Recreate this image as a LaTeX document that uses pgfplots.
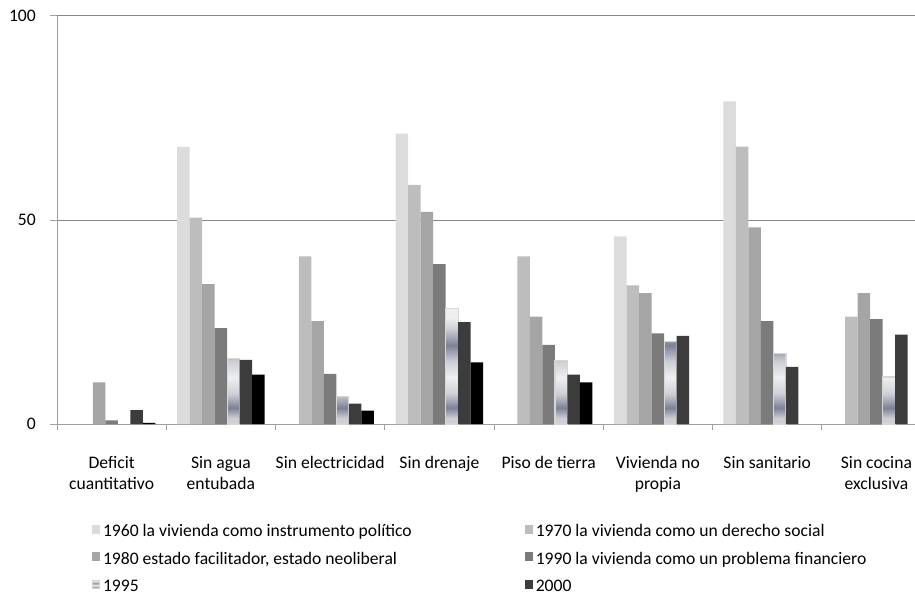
\documentclass[border=0pt]{standalone}
\usepackage{fontspec}
\setmainfont{Carlito}
\usepackage{pgfplots}
\pgfplotsset{compat=1.18}
\definecolor{cA}{HTML}{DCDCDC}
\definecolor{cB}{HTML}{BDBDBD}
\definecolor{cC}{HTML}{A5A5A5}
\definecolor{cD}{HTML}{7B7B7B}
\definecolor{cF}{HTML}{3C3C3C}
\definecolor{cG}{HTML}{000000}
\definecolor{gw}{HTML}{EEEFF1}
\definecolor{gm}{HTML}{CDCFD5}
\definecolor{gd}{HTML}{7C8197}
\definecolor{gb}{HTML}{D6D6D6}
\definecolor{gridc}{HTML}{878787}
\definecolor{axc}{HTML}{A0A0A0}
\pgfdeclareverticalshading{tex95}{100bp}{color(0bp)=(gm); color(25bp)=(gm); color(27.5bp)=(gm); color(32bp)=(gd); color(38bp)=(gm); color(45bp)=(gw); color(52bp)=(gm); color(59bp)=(gd); color(66bp)=(gm); color(71bp)=(gw); color(100bp)=(gw)}
\newcommand{\lf}{\fontsize{17.6}{21}\selectfont}
\begin{document}
\begin{tikzpicture}
\useasboundingbox (0,0) rectangle (915pt,600pt);
\begin{axis}[
  at={(57pt,176pt)}, anchor=south west,
  scale only axis, width=858pt, height=408pt,
  xmin=-0.5, xmax=7.353, ymin=0, ymax=100,
  axis x line*=bottom, axis y line*=left,
  axis line style={axc, line width=1pt, -},
  every outer x axis line/.append style={-},
  every outer y axis line/.append style={-},
  ytick={0,50,100},
  ymajorgrids, grid style={gridc, line width=1pt},
  xtick={0,...,7},
  xticklabels={{Deficit\\cuantitativo},{Sin agua\\entubada},{Sin electricidad},{Sin drenaje},{Piso de tierra},{Vivienda no\\propia},{Sin sanitario},{Sin cocina\\exclusiva}},
  major x tick style={draw=none},
  minor xtick={-0.5,0.5,...,6.5},
  minor x tick style={axc, line width=1pt},
  minor tick length=6pt,
  major tick length=7pt,
  major y tick style={axc, line width=1pt},
  tick align=outside,
  tick label style={font=\lf, text=black},
  /pgf/number format/assume math mode=true,
  xticklabel style={align=center, anchor=north, inner sep=0pt, yshift=-25pt},
  yticklabel style={anchor=east, inner sep=0pt, xshift=-14pt},
  legend columns=2,
  legend cell align=left,
  legend style={at={(0.0408,-0.2475)}, anchor=north west, draw=none, fill=none,
    inner sep=0pt, outer sep=0pt, font=\lf, row sep=11.5pt,
    nodes={inner sep=0pt, text height=12pt, text depth=4pt},
    /tikz/every odd column/.append style={column sep=3pt},
    /tikz/every even column/.append style={column sep=113pt}},
  legend image code/.code={\fill[#1] (0pt,-1pt) rectangle (8pt,8pt);},
]
\addplot[ybar, bar width=12.5pt, bar shift=-37.5pt, fill=cA, draw=none]
  coordinates {(1,67.9) (3,71.2) (5,46.0) (6,79.1)};
\addlegendentry{1960 la vivienda como instrumento político}
\addplot[ybar, bar width=12.5pt, bar shift=-25pt, fill=cB, draw=none]
  coordinates {(1,50.6) (2,41.1) (3,58.6) (4,41.1) (5,34.0) (6,68.0) (7,26.3)};
\addlegendentry{1970 la vivienda como un derecho social}
\addplot[ybar, bar width=12.5pt, bar shift=-12.5pt, fill=cC, draw=none]
  coordinates {(0,10.2) (1,34.3) (2,25.2) (3,52.0) (4,26.3) (5,32.1) (6,48.2) (7,32.1)};
\addlegendentry{1980 estado facilitador, estado neoliberal}
\addplot[ybar, bar width=12.5pt, bar shift=0pt, fill=cD, draw=none]
  coordinates {(0,0.9) (1,23.5) (2,12.3) (3,39.2) (4,19.4) (5,22.2) (6,25.2) (7,25.7)};
\addlegendentry{1990 la vivienda como un problema financiero}
\addplot[ybar, bar width=12.5pt, bar shift=12.5pt, shade, shading=tex95, draw=gb, line width=1.2pt,
  legend image code/.code={\draw[shade, shading=tex95, draw=gb, line width=0.8pt] (0.5pt,-0.5pt) rectangle (7.5pt,7.5pt);}]
  coordinates {(1,16.1) (2,6.8) (3,28.4) (4,15.6) (5,20.3) (6,17.2) (7,11.5)};
\addlegendentry{1995}
\addplot[ybar, bar width=12.5pt, bar shift=25pt, fill=cF, draw=none]
  coordinates {(0,3.4) (1,15.7) (2,5.0) (3,25.0) (4,12.1) (5,21.6) (6,14.0) (7,21.9)};
\addlegendentry{2000}
\addplot[ybar, bar width=12.5pt, bar shift=37.5pt, fill=cG, draw=none]
  coordinates {(0,0.3) (1,12.1) (2,3.3) (3,15.1) (4,10.2)};
\end{axis}
\end{tikzpicture}
\end{document}
